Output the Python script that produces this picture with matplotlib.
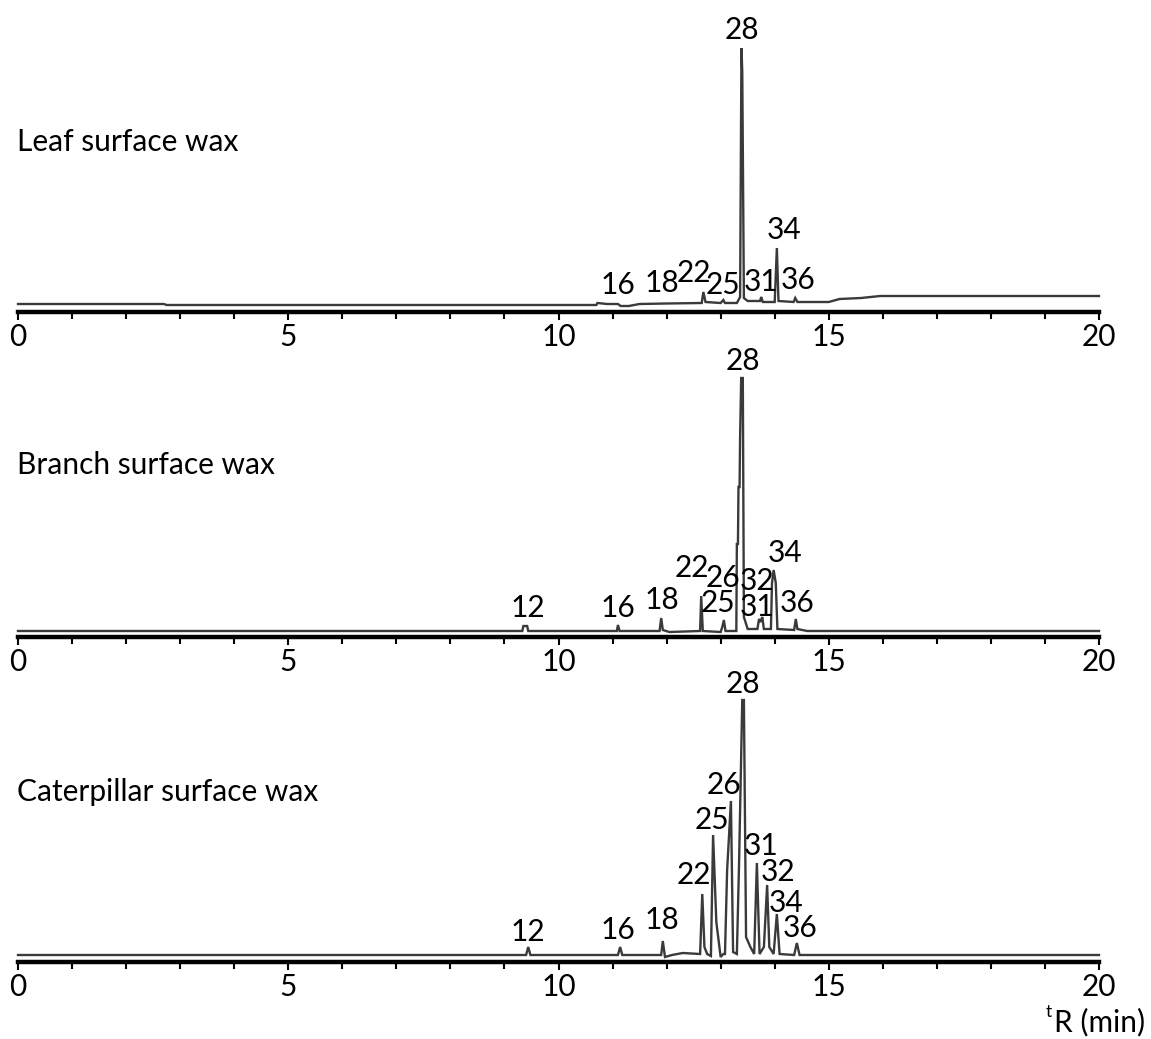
import matplotlib
matplotlib.use("Agg")
import matplotlib.pyplot as plt
from matplotlib.ticker import MultipleLocator

plt.rcParams['font.family'] = ['Lato', 'DejaVu Sans']

# ---- data: traced chromatogram vertices (retention time in min, signal in arbitrary units) ----
leaf_t = [0.0, 2.7, 2.75, 8.0, 10.7, 10.72, 10.9, 11.1, 11.15, 11.3, 11.5, 12.0, 12.65, 12.68, 12.72,
          13.0, 13.05, 13.08, 13.3, 13.36, 13.385, 13.40, 13.43, 13.5, 13.73, 13.75, 13.78, 14.0,
          14.04, 14.07, 14.35, 14.38, 14.42, 15.0, 15.2, 15.6, 15.95, 20.0]
leaf_y = [8, 8, 7, 7, 7, 9, 8, 8, 6, 6, 8, 8.5, 9, 20, 10,
          9, 12, 9, 9, 15, 264, 240, 14, 11, 11, 15, 10, 10,
          64, 11, 10, 14, 10, 10, 13, 14, 16, 16]

branch_t = [0.0, 9.33, 9.35, 9.42, 9.44, 11.08, 11.1, 11.13, 11.87, 11.9, 11.93, 12.05, 12.62, 12.64,
            12.67, 13.0, 13.03, 13.06, 13.09, 13.29, 13.30, 13.32, 13.33, 13.35, 13.36, 13.38, 13.41,
            13.43, 13.5, 13.68, 13.71, 13.74, 13.77, 13.8, 13.93, 13.95, 13.98, 14.02, 14.05, 14.36,
            14.39, 14.42, 14.6, 20.0]
branch_y = [6, 6, 11, 11, 6, 6, 12, 6, 6, 19, 7, 5, 6, 41,
            6, 5, 10, 17, 6, 6, 93, 93, 150, 150, 200, 259, 259,
            20, 8, 8, 18, 15, 20, 8, 8, 54, 67, 54, 8, 7,
            18, 8, 6, 6]

cater_t = [0.0, 9.4, 9.44, 9.48, 11.1, 11.14, 11.18, 11.9, 11.93, 11.97, 12.1, 12.3, 12.62, 12.66, 12.7,
           12.75, 12.82, 12.86, 12.92, 13.0, 13.05, 13.08, 13.12, 13.19, 13.23, 13.3, 13.34, 13.4,
           13.43, 13.47, 13.55, 13.62, 13.67, 13.72, 13.8, 13.86, 13.9, 13.98, 14.04, 14.09, 14.36,
           14.41, 14.46, 20.0]
cater_y = [7, 7, 15, 7, 7, 15, 7, 7, 21, 5, 7, 9, 8, 68, 15,
           8, 6, 127, 40, 5, 8, 8, 92, 161, 10, 8, 97, 262,
           262, 25, 15, 8, 99, 8, 15, 77, 15, 8, 48, 8, 7,
           19, 7, 7]

panel_names = ["Leaf surface wax", "Branch surface wax", "Caterpillar surface wax"]

# peak labels: (label, retention time, signal height of label centre)
leaf_labels = ["28", "34", "16", "18", "22", "25", "31", "36"]
leaf_lab_t = [13.39, 14.18, 11.10, 11.92, 12.50, 13.05, 13.74, 14.43]
leaf_lab_y = [282, 82, 27, 29, 39, 27, 30, 32]

branch_labels = ["28", "34", "22", "26", "32", "25", "31", "36", "12", "16", "18"]
branch_lab_t = [13.41, 14.19, 12.46, 13.04, 13.67, 12.95, 13.67, 14.41, 9.44, 11.10, 11.92]
branch_lab_y = [276, 84, 69, 59, 56, 34, 30, 34, 29, 29, 37]

cater_labels = ["28", "26", "25", "31", "22", "32", "34", "36", "12", "16", "18"]
cater_lab_t = [13.41, 13.06, 12.84, 13.75, 12.51, 14.06, 14.21, 14.47, 9.44, 11.10, 11.92]
cater_lab_y = [278, 177, 142, 116, 87, 90, 59, 34, 30, 32, 42]

traces = [(leaf_t, leaf_y), (branch_t, branch_y), (cater_t, cater_y)]
labels = [(leaf_labels, leaf_lab_t, leaf_lab_y),
          (branch_labels, branch_lab_t, branch_lab_y),
          (cater_labels, cater_lab_t, cater_lab_y)]
name_y = [170, 172, 170]

W, H = 1151, 1039
fig = plt.figure(figsize=(W / 100, H / 100), dpi=100)
spines_px = [312, 637, 962]
x0, x1 = 18, 1099
ax_h = 300
FS = 21.5

for i in range(3):
    bottom = (H - spines_px[i]) / H
    ax = fig.add_axes([x0 / W, bottom, (x1 - x0) / W, ax_h / H])
    ax.set_xlim(0, 20)
    ax.set_ylim(0, ax_h)
    t, y = traces[i]
    ax.plot(t, y, color='#3a3a3a', lw=1.7, solid_joinstyle='miter', clip_on=False)
    for s in ['top', 'right', 'left']:
        ax.spines[s].set_visible(False)
    ax.spines['bottom'].set_linewidth(3.2)
    ax.spines['bottom'].set_color('black')
    ax.set_yticks([])
    ax.xaxis.set_major_locator(MultipleLocator(5))
    ax.xaxis.set_minor_locator(MultipleLocator(1))
    ax.tick_params(axis='x', which='major', direction='out', length=6, width=1.5,
                   labelsize=FS, pad=2)
    ax.tick_params(axis='x', which='minor', direction='out', length=5, width=1.5)
    ax.set_xticklabels([f"{v:g}" for v in ax.get_xticks()])
    ax.text(-0.02, name_y[i], panel_names[i], fontsize=FS, ha='left', va='center',
            transform=ax.transData)
    labs, lt, ly = labels[i]
    for s, tt, yy in zip(labs, lt, ly):
        ax.text(tt, yy, s, fontsize=FS, ha='center', va='center')
    ax.patch.set_alpha(0)

# axis title with superscript t
fig.text(1049 / W, 1 - 1012 / H, "t", fontsize=12.5, ha='center', va='center')
fig.text(1054 / W, 1 - 1022 / H, "R (min)", fontsize=FS, ha='left', va='center')

fig.savefig("out.png", dpi=100)
